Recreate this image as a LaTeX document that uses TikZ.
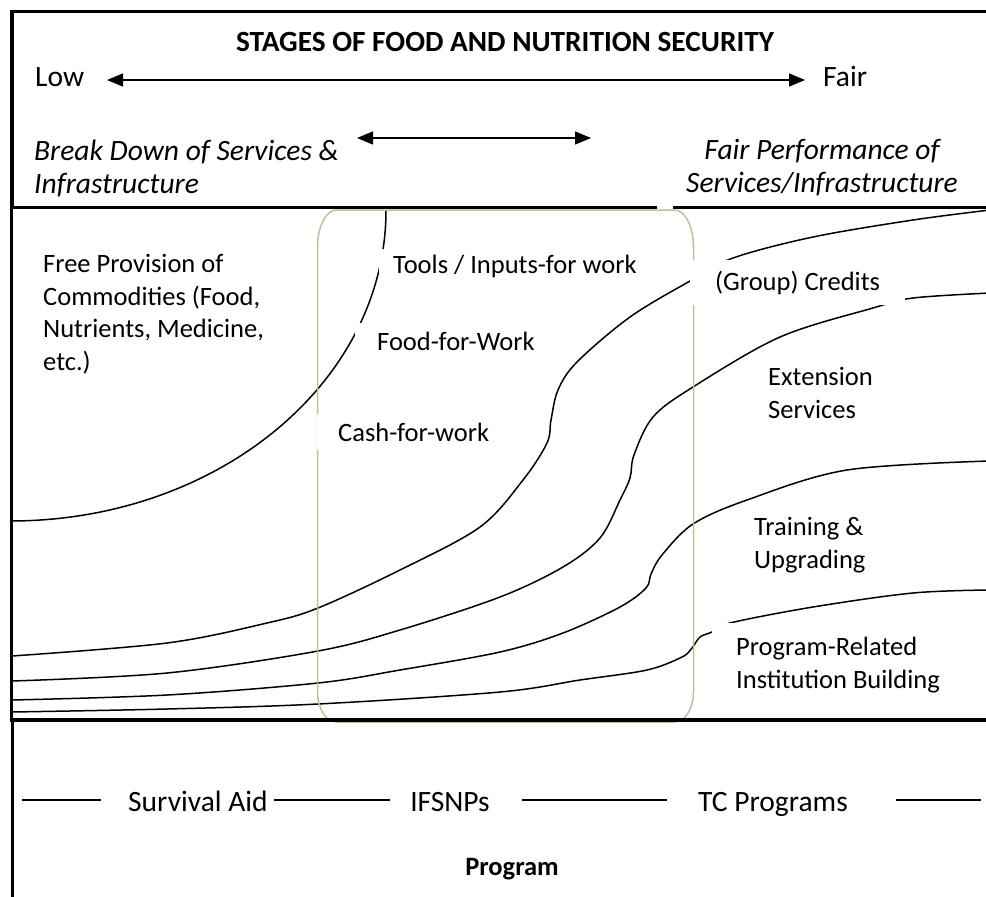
\documentclass[tikz,border=0pt]{standalone}
\usepackage{fontspec}
\setmainfont{Carlito}
\usepackage{tikz}
\usetikzlibrary{arrows.meta}
\definecolor{tanbox}{HTML}{C4BD97}

\begin{document}
\begin{tikzpicture}[x=1pt, y=-1pt,
    every node/.style={font=\fontsize{26.5}{32.5}\selectfont, inner sep=0pt},
    big/.style={font=\fontsize{29.5}{33}\selectfont},
    head/.style={font=\fontsize{29.3}{33}\selectfont\bfseries},
    slant/.style={font=\fontsize{29.5}{33}\selectfont\itshape},
    lbl/.style={anchor=base west, align=left, fill=white},
    frame/.style={line width=3.2pt},
    stage/.style={line width=1.5pt},
    both/.style={{Triangle[length=16pt,width=13pt]}-{Triangle[length=16pt,width=13pt]}, line width=1.5pt}
]
\useasboundingbox (0,0) rectangle (986,897);

% ---- stage curves ----
\draw[stage] (386,210) .. controls (386,382) and (218,521) .. (10,521);
\draw[stage] plot[smooth, tension=0.55] coordinates {(12,656) (167,643) (267,623) (318,608) (400,570) (480,527) (523,480) (547,443) (551,420) (558,390) (577,362) (630,317) (690,281) (733,258) (813,237) (913,220) (990,210)};
\draw[stage] plot[smooth, tension=0.55] coordinates {(12,681) (167,673) (318,651) (400,630) (500,597) (563,567) (600,538) (620,500) (630,478) (634,455) (653,417) (693,387) (780,337) (873,308) (913,298) (990,293)};
\draw[stage] plot[smooth, tension=0.55] coordinates {(12,700) (167,695) (318,683) (400,670) (500,652) (563,633) (620,607) (646,588) (651,574) (662,555) (693,524) (747,500) (847,470) (990,461)};
\draw[stage] plot[smooth, tension=0.55] coordinates {(12,712) (167,709) (318,704) (500,692) (580,680) (647,670) (682,657) (692,648) (700,637) (712,632) (730,623) (813,607) (913,593) (990,590)};

% ---- IFSNP band ----
\draw[tanbox, line width=1.5pt] (336.5,210) -- (674.5,210)
    .. controls (685,210) and (693.5,226.6) .. (693.5,247) -- (693.5,692)
    .. controls (693.5,708.6) and (685,722) .. (674.5,722) -- (336.5,722)
    .. controls (326,722) and (317.5,708.6) .. (317.5,692) -- (317.5,247)
    .. controls (317.5,226.6) and (326,210) .. cycle;

% ---- measure labels (base = last line) ----
\node[lbl] (free) at (43,370) {Free Provision of\\Commodities (Food,\\Nutrients, Medicine,\\etc.)};
\node[lbl, inner xsep=14pt, inner ysep=6pt] (tools) at (379,273.3) {Tools / Inputs-for work};
\node[lbl, inner xsep=22pt, inner ysep=9pt] (food) at (355,350) {Food-for-Work};
\node[lbl, inner xsep=21pt, inner ysep=9pt] (cash) at (317,441) {Cash-for-work};
\node[lbl, inner xsep=25pt, inner ysep=11pt] (credits) at (690,290) {(Group) Credits};
\node[lbl] (ext) at (768,418) {Extension\\Services};
\node[lbl] (train) at (754,568) {Training \&\\Upgrading};
\node[lbl, inner xsep=24pt, inner ysep=14pt] (inst) at (712,688.3) {Program-Related\\Institution Building};

% ---- frames ----
\draw[frame] (990,11.5) -- (12,11.5) -- (12,207.5);
\draw[frame] (990,207.5) -- (673,207.5);
\draw[frame] (657,207.5) -- (11.5,207.5) -- (11.5,720) -- (990,720);
\draw[frame] (12.5,720) -- (12.5,897);

% ---- stages header ----
\node[head, anchor=base] (title) at (505,51) {STAGES OF FOOD AND NUTRITION SECURITY};
\node[big, anchor=base west] (low) at (35,86) {Low};
\node[big, anchor=base west] (fair) at (823,86) {Fair};
\draw[both] (107,80) -- (805,80);
\draw[both] (357,138) -- (591,138);
\node[slant, anchor=base west, align=left] (breakdown) at (34,193) {Break Down of Services \&\\Infrastructure};
\node[slant, anchor=base, align=center] (fairperf) at (822,192.7) {Fair Performance of\\Services/Infrastructure};

% ---- programs ----
\node[big, anchor=base west] (surv) at (128,811.7) {Survival Aid};
\node[big, anchor=base] (ifsnp) at (450,811.7) {IFSNPs};
\node[big, anchor=base west] (tc) at (698,811.7) {TC Programs};
\draw[stage] (22,800) -- (101,800);
\draw[stage] (274,800) -- (390,800);
\draw[stage] (522,800) -- (667,800);
\draw[stage] (896,800) -- (981,800);
\node[head, font=\fontsize{26.5}{32.5}\selectfont\bfseries, anchor=base] (prog) at (512,875) {Program};
\end{tikzpicture}
\end{document}
